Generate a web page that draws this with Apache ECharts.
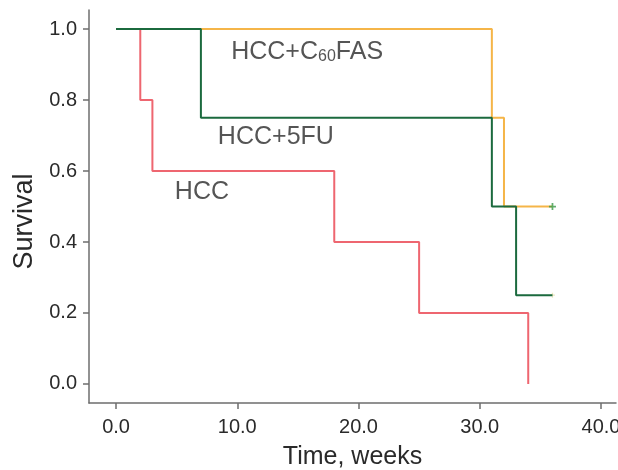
<!DOCTYPE html>
<html>
<head>
<meta charset="utf-8">
<script src="https://cdn.jsdelivr.net/npm/echarts@6/dist/echarts.min.js"></script>
<style>html,body{margin:0;padding:0;background:#fff}#c{width:618px;height:470px}</style>
</head>
<body>
<div id="c"></div>
<script>
// Kaplan-Meier survival data (time in weeks, survival fraction)
var hccTimes = [0, 2, 3, 18, 25, 34];
var hccSurv  = [1.0, 0.8, 0.6, 0.4, 0.2, 0.0];
var fuTimes  = [0, 7, 31, 33, 36];
var fuSurv   = [1.0, 0.75, 0.5, 0.25, 0.25];
var fasTimes = [0, 31, 32, 36];
var fasSurv  = [1.0, 0.75, 0.5, 0.5];
var xTicks = [0, 10, 20, 30, 40];
var yTicks = [0, 0.2, 0.4, 0.6, 0.8, 1.0];
var curveLabels = ['HCC+C{sub|60}FAS', 'HCC+5FU', 'HCC'];
var labelX = [9.5, 8.4, 4.85];
var labelY = [0.935, 0.695, 0.54];

function pairs(t, s) { return t.map(function (v, i) { return [v, s[i]]; }); }

var chart = echarts.init(document.getElementById('c'));
var textColor = '#2a2a2a';
var axisColor = '#6e6e6e';
var font = '"Liberation Sans", Arial, sans-serif';

chart.setOption({
  animation: false,
  backgroundColor: '#ffffff',
  grid: { left: 89, right: 2, top: 10, bottom: 67, outerBoundsMode: 'none', containLabel: false },
  xAxis: {
    type: 'value', min: -2.23, max: 41.24,
    name: 'Time, weeks', nameLocation: 'middle', nameGap: 42,
    nameTextStyle: { fontSize: 25, color: textColor, fontFamily: font },
    axisLine: { show: true, onZero: false, lineStyle: { color: axisColor, width: 1.5 } },
    axisTick: { show: true, length: 6, customValues: xTicks, lineStyle: { color: axisColor, width: 1.5 } },
    axisLabel: { customValues: xTicks, margin: 14, fontSize: 20, color: textColor, fontFamily: font,
      formatter: function (v) { return v.toFixed(1); } },
    splitLine: { show: false }
  },
  yAxis: {
    type: 'value', min: -0.0537, max: 1.0537,
    name: 'Survival', nameLocation: 'middle', nameGap: 50,
    nameTextStyle: { fontSize: 27, color: textColor, fontFamily: font, padding: [0, 30, 0, 0] },
    axisLine: { show: true, onZero: false, lineStyle: { color: axisColor, width: 1.5 } },
    axisTick: { show: true, length: 6, customValues: yTicks, lineStyle: { color: axisColor, width: 1.5 } },
    axisLabel: { customValues: yTicks, margin: 12, fontSize: 20, color: textColor, fontFamily: font,
      formatter: function (v) { return v.toFixed(1); } },
    splitLine: { show: false }
  },
  series: [
    { type: 'line', step: 'end', data: pairs(fasTimes, fasSurv), showSymbol: false, z: 2,
      lineStyle: { color: '#f5b548', width: 2 } },
    { type: 'line', step: 'end', data: pairs(hccTimes, hccSurv), showSymbol: false, z: 3,
      lineStyle: { color: '#ee6670', width: 2 } },
    { type: 'line', step: 'end', data: pairs(fuTimes, fuSurv), showSymbol: false, z: 4,
      lineStyle: { color: '#1b6a3e', width: 2 } },
    { type: 'scatter', z: 5, silent: true,
      data: [[fasTimes[fasTimes.length - 1], fasSurv[fasSurv.length - 1]]],
      symbol: 'path://M3,0h2v3h3v2h-3v3h-2v-3h-3v-2h3z', symbolSize: 7,
      itemStyle: { color: '#3a9a4a' } },
    { type: 'scatter', z: 1, silent: true,
      data: [[fuTimes[fuTimes.length - 1], fuSurv[fuSurv.length - 1]]],
      symbol: 'path://M3,0h2v3h3v2h-3v3h-2v-3h-3v-2h3z', symbolSize: 5,
      itemStyle: { color: '#e8e4b0' } },
    { type: 'scatter', z: 6, silent: true, symbolSize: 0,
      data: curveLabels.map(function (t, i) { return { value: [labelX[i], labelY[i]], name: t }; }),
      label: {
        show: true, position: 'right', distance: 0,
        formatter: function (p) { return p.name; },
        fontSize: 25, color: textColor, fontFamily: font,
        rich: { sub: { fontSize: 16, color: textColor, fontFamily: font, verticalAlign: 'bottom' } }
      }
    }
  ]
});
</script>
</body>
</html>
